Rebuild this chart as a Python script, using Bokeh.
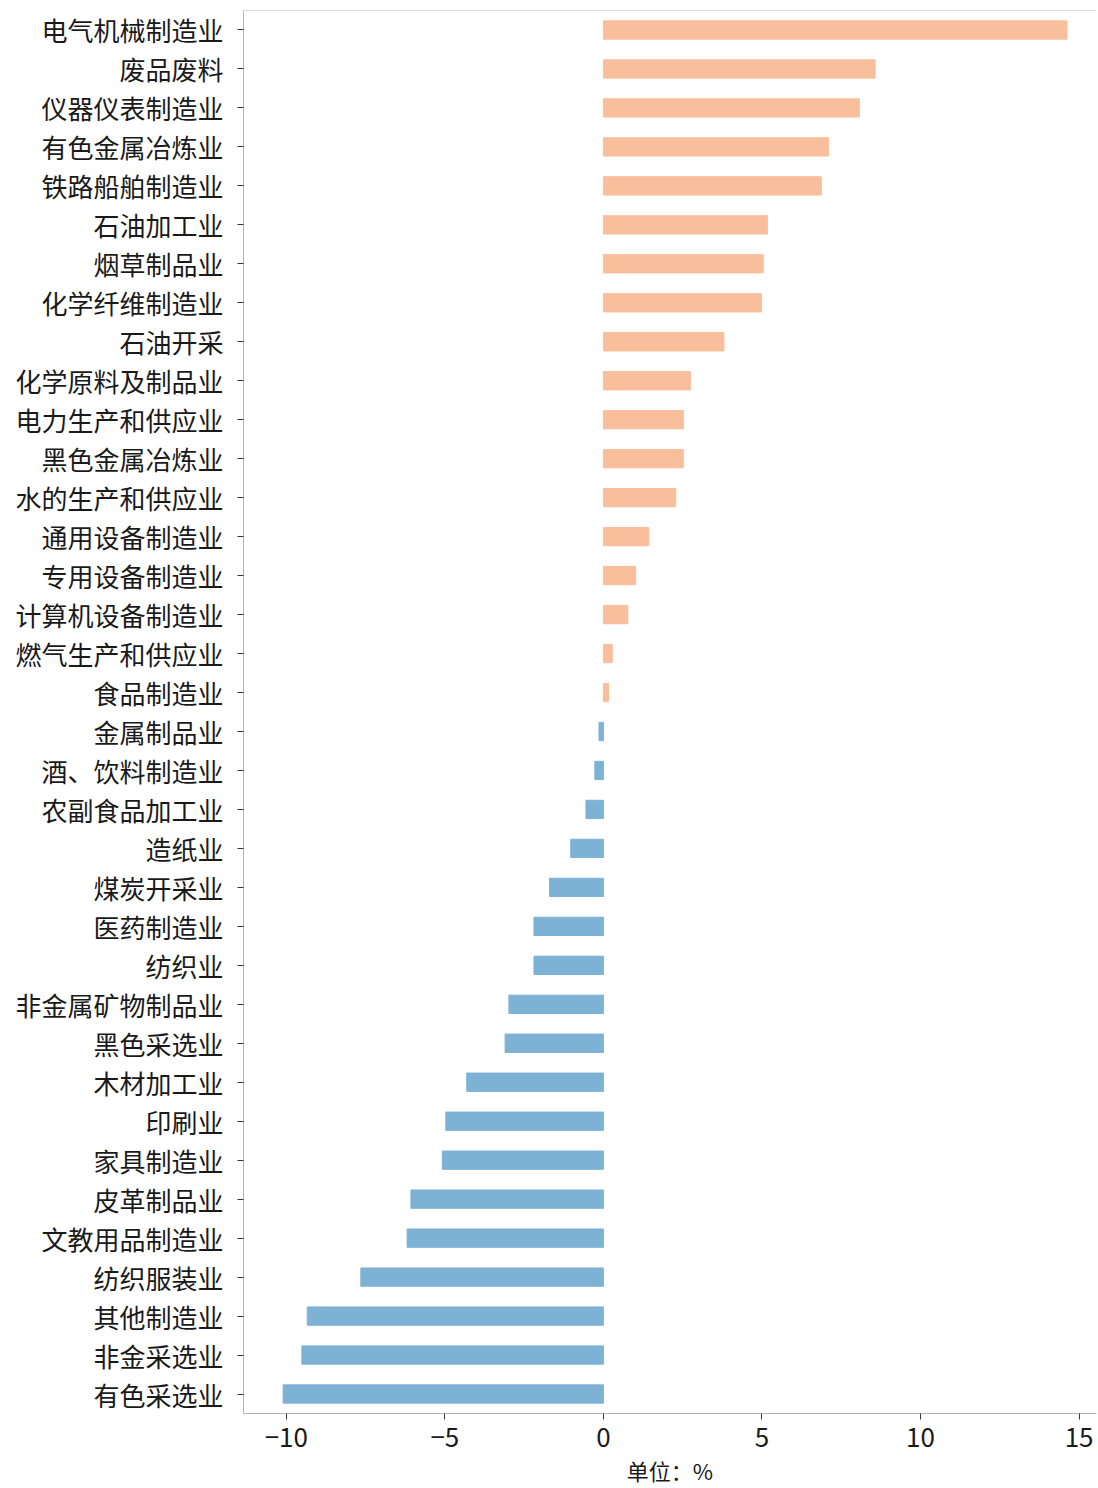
from bokeh.plotting import figure
from bokeh.models import FactorRange, Range1d, FixedTicker, Span, ColumnDataSource, CustomJSTickFormatter
from bokeh.embed import file_html
from bokeh.resources import INLINE

industries = [
    "电气机械制造业", "废品废料", "仪器仪表制造业", "有色金属冶炼业", "铁路船舶制造业",
    "石油加工业", "烟草制品业", "化学纤维制造业", "石油开采", "化学原料及制品业",
    "电力生产和供应业", "黑色金属冶炼业", "水的生产和供应业", "通用设备制造业", "专用设备制造业",
    "计算机设备制造业", "燃气生产和供应业", "食品制造业", "金属制品业", "酒、饮料制造业",
    "农副食品加工业", "造纸业", "煤炭开采业", "医药制造业", "纺织业",
    "非金属矿物制品业", "黑色采选业", "木材加工业", "印刷业", "家具制造业",
    "皮革制品业", "文教用品制造业", "纺织服装业", "其他制造业", "非金采选业",
    "有色采选业",
]
growth = [
    14.62, 8.57, 8.07, 7.10, 6.87,
    5.17, 5.04, 4.98, 3.80, 2.75,
    2.52, 2.52, 2.28, 1.43, 1.02,
    0.77, 0.28, 0.16, -0.14, -0.27,
    -0.55, -1.03, -1.70, -2.19, -2.19,
    -2.98, -3.10, -4.31, -4.97, -5.08,
    -6.07, -6.19, -7.65, -9.34, -9.51,
    -10.10,
]
x_ticks = [-10, -5, 0, 5, 10, 15]

POS = "#F9BF9D"
NEG = "#7DB2D5"
colors = [POS if v >= 0 else NEG for v in growth]
src = ColumnDataSource(dict(industry=industries, growth=growth, color=colors))

FONT = "Noto Sans CJK SC"

p = figure(
    y_range=FactorRange(factors=industries[::-1]),
    x_range=Range1d(-11.35, 15.55),
    frame_width=853, frame_height=1403,
    min_border_left=243, min_border_top=10, min_border_bottom=62, min_border_right=1,
    output_backend="svg", toolbar_location=None,
)
p.hbar(y="industry", left=0, right="growth", height=0.47, color="color", source=src)

p.outline_line_color = None
p.xgrid.grid_line_color = None
p.ygrid.grid_line_color = None

AX = "#b5b5b5"
for ax in (p.xaxis[0], p.yaxis[0]):
    ax.axis_line_color = AX
    ax.major_tick_line_color = "#333333"
    ax.major_tick_out = 6
    ax.major_tick_in = 0
    ax.minor_tick_line_color = None
    ax.major_label_text_font = FONT
    ax.major_label_text_font_size = "26px"
    ax.major_label_text_color = "#1a1a1a"

p.yaxis.major_label_standoff = 14
p.xaxis.major_label_standoff = 8
p.xaxis.ticker = FixedTicker(ticks=x_ticks)
p.xaxis.formatter = CustomJSTickFormatter(code="return tick < 0 ? '\\u2212' + Math.abs(tick) : String(tick);")
p.xaxis.axis_label = "单位：%"
p.xaxis.axis_label_text_font = FONT
p.xaxis.axis_label_text_font_size = "22px"
p.xaxis.axis_label_text_font_style = "normal"
p.xaxis.axis_label_text_color = "#1a1a1a"
p.xaxis.axis_label_standoff = 4

p.add_layout(Span(location=len(industries), dimension="width", line_color=AX, line_width=1))

open("out.html", "w").write(file_html(p, INLINE))
